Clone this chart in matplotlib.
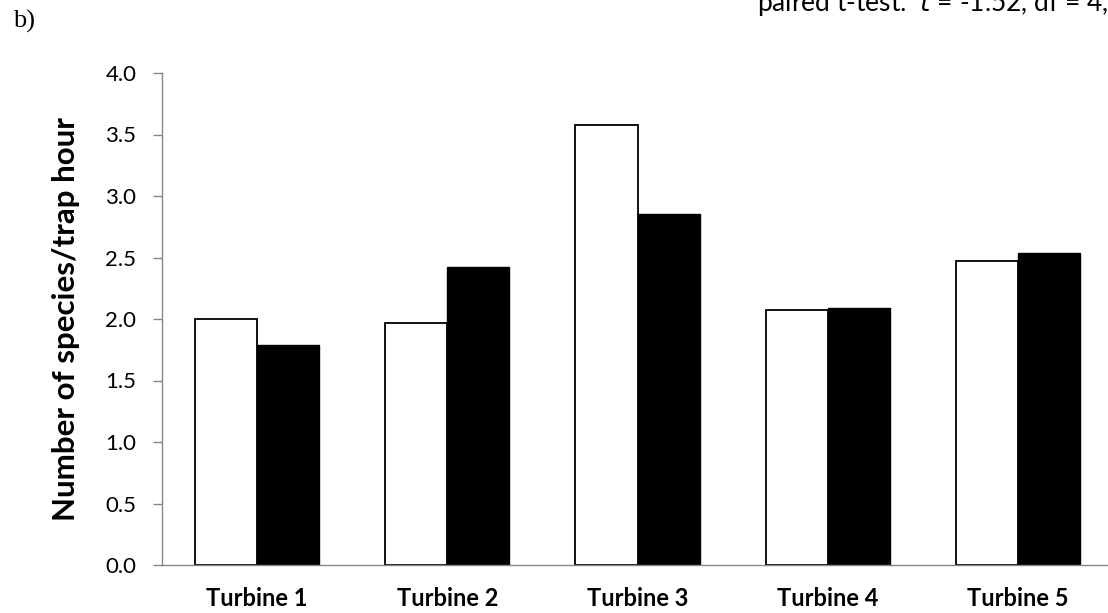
import matplotlib
matplotlib.use("Agg")
import matplotlib.pyplot as plt
import numpy as np

# data
turbines = ["Turbine 1", "Turbine 2", "Turbine 3", "Turbine 4", "Turbine 5"]
white_vals = [2.00, 1.97, 3.58, 2.07, 2.47]
black_vals = [1.79, 2.42, 2.85, 2.09, 2.54]
yticks = [0.0, 0.5, 1.0, 1.5, 2.0, 2.5, 3.0, 3.5, 4.0]

plt.rcParams['font.family'] = ['Lato', 'DejaVu Sans']

W, H = 1108, 613
fig = plt.figure(figsize=(W/100, H/100), dpi=100)
# axes run past the right edge of the picture, like the cropped original
ax = fig.add_axes([162/W, 1 - 565/H, (1113-162)/W, (565-73)/H])

x = np.arange(len(turbines))
w = 0.327
ax.bar(x - w/2, white_vals, w, color='white', edgecolor='black', linewidth=1.3)
ax.bar(x + w/2, black_vals, w, color='black', edgecolor='black', linewidth=1.0)

ax.set_xlim(-0.5, len(turbines) - 0.5)
ax.set_ylim(0, 4.0)
ax.set_yticks(yticks)
ax.set_yticklabels([f"{v:.1f}" for v in yticks], fontsize=16)
ax.set_xticks(x)
ax.set_xticklabels(turbines, fontsize=17, fontweight='bold')
ax.tick_params(axis='x', length=0, pad=16)
ax.tick_params(axis='y', direction='out', length=6.5, color='#868686', width=1.0, pad=12)

for s in ['top', 'right']:
    ax.spines[s].set_visible(False)
for s in ['left', 'bottom']:
    ax.spines[s].set_color('#868686')
    ax.spines[s].set_linewidth(1.0)

ax.set_ylabel("Number of species/trap hour", fontsize=22.5, fontweight='bold', labelpad=18)

fig.text(13/W, 1 - 10/H, "b)", fontsize=19, va='top', family=['Liberation Serif'])
fig.text(757/W, 1 - 11/H, "paired t-test:  $\\it{t}$ = -1.52, df = 4, P = 0.20",
         fontsize=19, va='baseline')

fig.savefig("out.png", dpi=100)
